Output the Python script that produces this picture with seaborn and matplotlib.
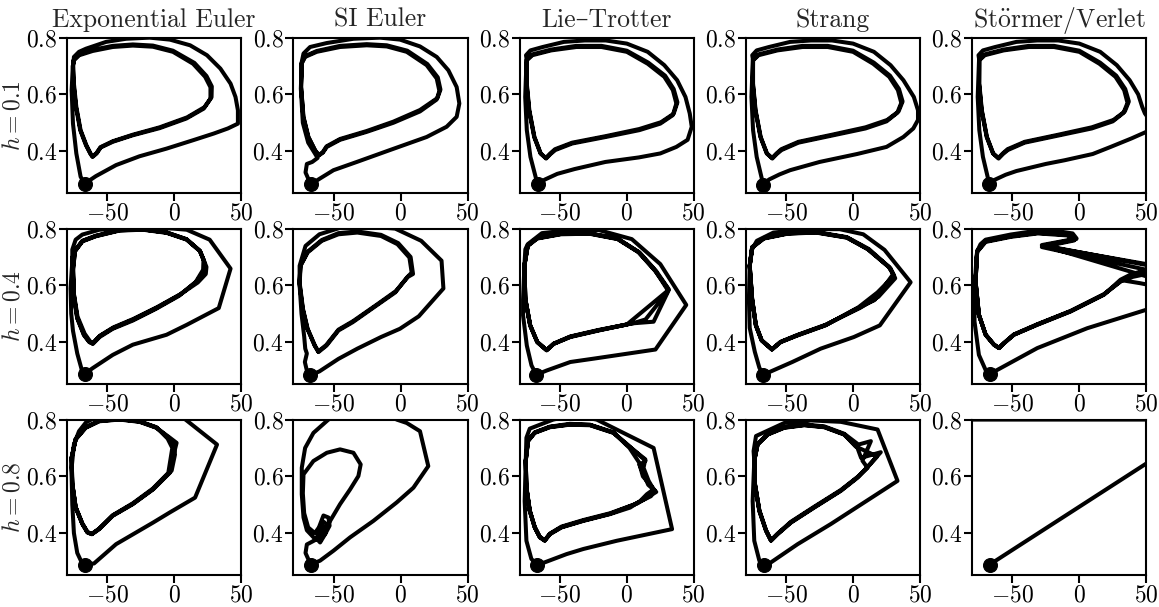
import pandas as pd
import matplotlib
matplotlib.use('Agg')
import matplotlib.pyplot as plt
import seaborn as sns

methods = ['Exponential Euler', 'SI Euler', 'Lie–Trotter', 'Strang', r'St$\ddot{\mathrm{o}}$rmer/Verlet']
step_sizes = ['0.1', '0.4', '0.8']

exp_01 = [(-66.7, .283), (-62.4, .300), (-58.6, .312), (-43.5, .351), (-26, .382), (-5.8, .409), (14.3, .439),
          (29.4, .462), (40, .480), (47.5, .497), (47.5, .544), (45.7, .591), (42, .638), (34.4, .691), (24.4, .738),
          (11.8, .773), (-3.3, .793), (-18.4, .800), (-36, .796), (-51, .785), (-66, .761), (-71.2, .750), (-75, .732),
          (-75.5, .700), (-75, .638), (-73.2, .556), (-70, .474), (-65.7, .421), (-62.4, .390), (-61, .380), (-58, .392),
          (-55, .413), (-46, .433), (-31, .456), (-11, .481), (9, .515), (22, .550), (27, .585), (27, .625), (23, .662),
          (14, .708), (-1, .750), (-16, .768), (-31, .772), (-46, .767), (-61, .753), (-71, .738), (-75, .720),
          (-75.8, .700), (-75.3, .638), (-73.5, .556), (-70.3, .474), (-66, .421), (-62.6, .390), (-61.2, .381),
          (-58.2, .393), (-55.2, .414), (-46, .435), (-31, .458), (-11, .484), (9.5, .519), (22.5, .555), (27.8, .590),
          (28, .628), (24, .665), (15, .711), (-1, .754), (-16, .772), (-31, .776), (-46, .771), (-61, .757),
          (-71.2, .741), (-75.2, .722), (-75.8, .700), (-76.7, .615), (-75.7, .497), (-73.2, .392), (-70, .310),
          (-66.7, .283)]
si_01 = [(-67.1, .283), (-60.1, .304), (-50.1, .333), (-32.7, .362), (-7.9, .404), (19.5, .450), (34.4, .486),
         (41.9, .521), (43.9, .568), (41.9, .626), (35.7, .685), (27, .732), (14.5, .769), (-0.4, .793), (-15.3, .800),
         (-35.2, .796), (-55.1, .781), (-67.6, .767), (-72.5, .744), (-74, .710), (-74.3, .626), (-72.5, .521),
         (-68.8, .450), (-63.8, .403), (-61, .385), (-58, .395), (-55.1, .415), (-45.2, .440), (-25.3, .468),
         (-5.4, .500), (14.5, .540), (27, .582), (29, .612), (27, .656), (19.5, .703), (4.6, .750), (-10.3, .769),
         (-25.3, .773), (-45.2, .767), (-62.6, .750), (-71.3, .732), (-73.8, .709), (-74.3, .626), (-72.7, .521),
         (-69, .450), (-64, .403), (-61.2, .386), (-58.2, .396), (-55.3, .417), (-45.2, .443), (-25.3, .471),
         (-5.4, .504), (14.5, .545), (27.5, .587), (29.8, .617), (27.8, .660), (20, .707), (5, .754), (-10.3, .773),
         (-25.3, .777), (-45.2, .771), (-62.6, .753), (-71.3, .735), (-73.8, .712), (-74.5, .620), (-73, .500),
         (-69, .430), (-64, .392), (-62, .376), (-66, .362), (-70, .355), (-71, .325), (-67.1, .283)]
lt_01 = [(-66.5, .284), (-61.2, .300), (-52, .320), (-39, .337), (-16, .362), (9, .378), (25, .392), (37, .415),
         (45.4, .440), (48.5, .486), (47, .533), (43.8, .591), (37.6, .650), (28, .703), (15.6, .750), (0, .779),
         (-15.7, .790), (-31.4, .790), (-47, .785), (-62.8, .767), (-72, .755), (-75.3, .738), (-74.7, .720),
         (-74.7, .638), (-72.8, .544), (-69, .450), (-64.3, .392), (-60.3, .374), (-57, .390), (-53.4, .404),
         (-40.8, .427), (-15.7, .450), (9.3, .474), (25, .497), (34.4, .527), (37, .568), (34.4, .615), (28, .662),
         (15.6, .708), (0, .750), (-18.9, .767), (-37.7, .767), (-56.5, .755), (-70.6, .738), (-74.7, .720),
         (-74.9, .638), (-73, .544), (-69.2, .450), (-64.5, .392), (-60.5, .376), (-57.2, .392), (-53.6, .407),
         (-40.8, .430), (-15.7, .453), (9.3, .478), (25.5, .502), (35, .532), (37.8, .572), (35, .619), (28.6, .666),
         (16, .712), (0, .754), (-18.9, .771), (-37.7, .771), (-56.5, .758), (-70.6, .741), (-74.9, .722),
         (-75.9, .591), (-74.7, .474), (-72, .380), (-67.5, .298), (-66.5, .284)]
st_01 = [(-67.5, .280), (-62.8, .300), (-55, .318), (-47, .333), (-25, .362), (3, .390), (25, .415), (37.6, .450),
         (45, .480), (48.5, .510), (48.5, .544), (45.4, .591), (37.6, .650), (28, .703), (15.6, .750), (0, .779),
         (-15.7, .790), (-31.4, .790), (-47, .785), (-62.8, .767), (-72, .755), (-75.3, .738), (-74.7, .720),
         (-74.7, .638), (-72.8, .544), (-69, .450), (-64.3, .392), (-60.3, .374), (-57, .390), (-53.4, .404),
         (-40.8, .430), (-15.7, .455), (9.3, .480), (25, .505), (33, .535), (36, .570), (33.5, .615), (27, .662),
         (15, .708), (0, .750), (-18.9, .767), (-37.7, .767), (-56.5, .755), (-70.6, .738), (-74.7, .720),
         (-74.9, .638), (-73, .544), (-69.2, .450), (-64.5, .392), (-60.5, .376), (-57.2, .392), (-53.6, .407),
         (-40.8, .433), (-15.7, .458), (9.3, .484), (25.5, .510), (34, .540), (37, .575), (34.3, .619), (27.6, .666),
         (15.5, .712), (0, .754), (-18.9, .771), (-37.7, .771), (-56.5, .758), (-70.6, .741), (-74.9, .722),
         (-75.9, .591), (-74.7, .474), (-72, .380), (-68, .300), (-67.5, .280)]
sv_01 = [(-67.5, .283), (-62.8, .300), (-55, .317), (-47, .330), (-25, .355), (-11, .368), (10, .390), (23.4, .415),
         (39, .445), (50, .468), (54, .500), (49, .533), (47, .556), (44, .600), (37.6, .650), (28, .703), (15.6, .750),
         (0, .779), (-15.7, .790), (-31.4, .790), (-47, .785), (-62.8, .767), (-72, .755), (-75.3, .738),
         (-74.7, .720), (-74.7, .638), (-72.8, .544), (-69, .450), (-64.3, .392), (-60.3, .374), (-57, .390),
         (-53.4, .404), (-40.8, .430), (-15.7, .455), (9.3, .480), (25, .505), (33, .535), (36, .570), (33.5, .615),
         (27, .662), (15, .708), (0, .750), (-18.9, .767), (-37.7, .767), (-56.5, .755), (-70.6, .738), (-74.7, .720),
         (-74.9, .638), (-73, .544), (-69.2, .450), (-64.5, .392), (-60.5, .376), (-57.2, .392), (-53.6, .407),
         (-40.8, .433), (-15.7, .458), (9.3, .484), (25.5, .510), (34, .540), (37, .575), (34.3, .619), (27.6, .666),
         (15.5, .712), (0, .754), (-18.9, .771), (-37.7, .771), (-56.5, .758), (-70.6, .741), (-74.9, .722),
         (-75.9, .591), (-74.7, .474), (-72, .380), (-68, .300), (-67.5, .283)]

exp_04 = [(-66.9, .288), (-61.1, .308), (-46, .355), (-31, .391), (-5.8, .426), (9.3, .461), (33.2, .520), (42, .659),
          (26.4, .761), (9.3, .796), (-0.8, .800), (-25, .805), (-56, .796), (-68.7, .779), (-73.7, .761),
          (-76.2, .726), (-76.2, .700), (-75.7, .649), (-75, .567), (-72.5, .485), (-67.4, .426), (-63.7, .402),
          (-61.1, .395), (-56.1, .420), (-46, .449), (-31, .479), (-13.4, .520), (4.2, .567), (16.8, .614),
          (22.3, .652), (22.3, .685), (19.3, .720), (9.3, .761), (-5.8, .785), (-23.4, .796), (-41, .793),
          (-58.6, .773), (-68.7, .755), (-74.2, .720), (-75.5, .660), (-75, .570), (-72.3, .490), (-67, .430),
          (-62.5, .400), (-60.5, .398), (-55.5, .423), (-45.5, .452), (-30.5, .482), (-13, .523), (5, .570),
          (17.5, .610), (23.5, .640), (24, .665), (21, .700), (19, .722), (9, .763), (-6, .787), (-23, .797),
          (-41, .795), (-58.6, .775), (-68.7, .757), (-74.2, .722), (-75.8, .650), (-75.2, .565), (-72.6, .485),
          (-67.6, .425), (-63.5, .400), (-60.8, .394), (-55.8, .418), (-46, .447), (-31, .476), (-13.8, .517),
          (3.5, .563), (16, .612), (21.5, .655), (21.8, .690), (19, .722), (9.2, .762), (-5.6, .786), (-23.4, .797),
          (-41, .794), (-58.6, .774), (-68.7, .756), (-74.2, .721), (-76, .700), (-77.5, .590), (-77, .500),
          (-75.7, .440), (-72.5, .360), (-69, .300), (-66.9, .288)]
si_04 = [(-67.6, .283), (-60.6, .297), (-46.4, .341), (-32.3, .377), (-14.6, .418), (-0.5, .447), (13.6, .491),
         (32, .589), (30.6, .687), (15.4, .757), (-4, .800), (-20, .806), (-45, .803), (-60.6, .780), (-71, .739),
         (-75.4, .669), (-75.4, .610), (-72.9, .517), (-69.4, .447), (-64, .388), (-61.3, .365), (-55.3, .388),
         (-46.4, .441), (-35.8, .470), (-18, .529), (-4, .575), (4.8, .628), (8.3, .645), (6.6, .698), (-2.3, .745),
         (-14.6, .774), (-32.3, .786), (-46.4, .780), (-58.8, .757), (-69.4, .716), (-74.7, .669), (-75.6, .610),
         (-73.1, .517), (-69.6, .447), (-64.2, .388), (-61.5, .367), (-55.5, .390), (-46.4, .444), (-35.5, .474),
         (-17.5, .533), (-3.5, .580), (5.5, .630), (9.3, .640), (7.5, .700), (-1.8, .749), (-14.6, .778),
         (-32.3, .790), (-46.4, .784), (-58.8, .760), (-69.4, .719), (-74.7, .671), (-75.4, .600), (-74, .500),
         (-72, .420), (-71.2, .377), (-70, .360), (-71.5, .330), (-70, .300), (-67.6, .283)]
lt_04 = [(-67.6, .285), (-59.9, .300), (-42.2, .330), (-24.5, .342), (21.4, .374), (44.4, .531), (25, .675),
         (3.7, .763), (-21, .795), (-42.2, .795), (-63.4, .784), (-74, .745), (-75.8, .727), (-76.5, .669),
         (-75.8, .552), (-72.2, .459), (-66.9, .400), (-59.9, .371), (-54.6, .394), (-42.2, .418), (-21, .441),
         (3.7, .466), (20, .472), (31, .580), (21.4, .651), (9, .716), (-6.9, .763), (-28, .782), (-49.3, .780),
         (-66.9, .765), (-74, .739), (-76.5, .669), (-75.8, .552), (-72.2, .459), (-66.9, .400), (-59.9, .372),
         (-54.6, .395), (-42.2, .420), (-21, .443), (0, .462), (31.5, .585), (22, .650), (9.5, .716), (-6.9, .765),
         (-28, .784), (-49.3, .782), (-66.9, .767), (-74, .741), (-76.5, .670), (-75.8, .552), (-72.2, .460),
         (-66.9, .401), (-59.9, .372), (-54.6, .394), (-42.2, .419), (-21, .442), (5, .467), (14, .480), (30, .575),
         (30.5, .590), (21, .652), (8.5, .718), (-6.9, .764), (-28, .783), (-49.3, .781), (-66.9, .766), (-74, .740),
         (-76.5, .669), (-77.5, .550), (-77.5, .494), (-74.7, .388), (-71.2, .318), (-67.6, .285)]
st_04 = [(-67.3, .285), (-61.3, .297), (-45.4, .330), (-24.2, .377), (0.6, .418), (20, .459), (43, .611),
         (23.5, .725), (7.6, .780), (-10, .798), (-34.8, .798), (-59.5, .786), (-71.9, .757), (-75.4, .727),
         (-77.2, .669), (-75.4, .552), (-72.6, .459), (-68.3, .406), (-60.6, .374), (-54.2, .400), (-41.8, .423),
         (-20.6, .459), (4.1, .523), (18.2, .575), (30.6, .634), (27.1, .663), (11.2, .727), (-4.7, .768),
         (-27.7, .786), (-48.9, .782), (-66.6, .765), (-75.4, .733), (-77.2, .669), (-75.4, .552), (-72.6, .460),
         (-68.3, .407), (-60.6, .375), (-54.2, .401), (-41.8, .425), (-20.6, .461), (5, .520), (19, .560),
         (31.5, .625), (28, .660), (11.8, .728), (-4.7, .770), (-27.7, .788), (-48.9, .784), (-66.6, .767),
         (-75.4, .735), (-77.2, .670), (-75.4, .552), (-72.6, .459), (-68.3, .406), (-60.6, .374), (-54.2, .400),
         (-41.8, .424), (-20.6, .460), (4.5, .522), (16, .548), (30, .640), (26.5, .666), (10.8, .728), (-4.7, .769),
         (-27.7, .787), (-48.9, .783), (-66.6, .766), (-75.4, .734), (-77.2, .669), (-77.8, .550), (-77.2, .450),
         (-73.4, .366), (-70, .310), (-67.3, .285)]
sv_04 = [(-67, .287), (-61.3, .302), (-31.4, .379), (5.9, .449), (50, .514), (56, .540), (58, .600), (55, .665),
         (50, .672), (-28, .742), (-2, .765), (-5, .783), (-19, .793), (-31.4, .793), (-51.4, .779), (-70, .761),
         (-73.8, .745), (-76.3, .720), (-77.5, .614), (-75, .496), (-70, .426), (-63.8, .391), (-60, .379),
         (-56.3, .396), (-48.9, .426), (-31.4, .461), (-6.5, .508), (18.4, .567), (30.8, .620), (38.3, .638),
         (50, .655), (56, .665), (50, .675), (-26, .738), (-3, .762), (-8, .778), (-31, .785), (-51, .773),
         (-70, .755), (-76.3, .720), (-77.5, .614), (-75, .497), (-70, .427), (-63.8, .392), (-60, .380),
         (-56.3, .397), (-48.9, .427), (-31.4, .463), (-6.5, .510), (18.4, .569), (31, .615), (40, .630), (50, .640),
         (56, .645), (50, .655), (-28, .735), (-4, .758), (-9, .776), (-31, .783), (-51, .771), (-70, .753),
         (-76.3, .718), (-77.5, .614), (-75, .496), (-70, .426), (-63.8, .391), (-60, .379), (-56.3, .396),
         (-48.9, .426), (-31.4, .462), (-6.5, .509), (18.4, .568), (32, .618), (45, .608), (56, .598), (52, .628),
         (50, .632), (-27, .740), (-2.5, .763), (-7, .780), (-31, .787), (-51, .775), (-70, .757), (-76.3, .721),
         (-76.8, .700), (-78.3, .580), (-78.3, .473), (-75, .355), (-70, .302), (-67, .287)]

exp_08 = [(-66.9, .289), (-60, .293), (-43.5, .361), (-15.9, .437), (-3.3, .473), (15.5, .525), (31.9, .712),
          (3, .820), (-50, .830), (-66, .790), (-71.2, .759), (-75, .712), (-76.7, .630), (-76.2, .572), (-73.7, .490),
          (-68.7, .432), (-64.9, .402), (-61.6, .396), (-56.1, .414), (-46, .461), (-31, .502), (-15.9, .554),
          (-3.3, .613), (-0.8, .671), (1.7, .718), (-3.3, .736), (-13.4, .771), (-26, .792), (-41, .800), (-56, .794),
          (-66.2, .771), (-73.7, .730), (-76.7, .665), (-76.2, .575), (-73.7, .492), (-68.7, .434), (-64.9, .404),
          (-61.6, .397), (-56.1, .416), (-46, .463), (-31, .505), (-16, .557), (-4.5, .612), (-1.5, .700),
          (-5, .733), (-13.4, .773), (-26, .794), (-41, .802), (-56, .796), (-66.2, .773), (-73.7, .732),
          (-76.7, .667), (-76.2, .573), (-73.7, .491), (-68.7, .433), (-64.9, .403), (-61.6, .397), (-56.1, .415),
          (-46, .462), (-31, .503), (-15.5, .556), (-2, .620), (0.5, .677), (-1, .710), (-4, .735), (-13.4, .772),
          (-26, .793), (-41, .801), (-56, .795), (-66.2, .772), (-73.7, .731), (-76.7, .666), (-76.7, .600),
          (-76.2, .500), (-75, .400), (-72.5, .330), (-69, .295), (-66.9, .289)]
si_08 = [(-67.1, .289), (-60.1, .303), (-50.1, .338), (-37.7, .385), (-20.3, .443), (-2.9, .508), (9.6, .560),
         (20.7, .636), (14.5, .759), (4.6, .788), (-2.9, .800), (-10, .820), (-45, .820), (-53.9, .800),
         (-65.1, .753), (-71.3, .700), (-73.8, .630), (-73.8, .537), (-72.5, .455), (-70, .410), (-65, .385),
         (-60.1, .373), (-57.6, .396), (-52.6, .443), (-45.2, .502), (-37.7, .554), (-31.5, .601), (-29.8, .642),
         (-35.2, .683), (-45.2, .695), (-55.1, .683), (-65.1, .654), (-72.5, .607), (-73, .540), (-72, .470),
         (-69, .420), (-64, .400), (-61, .420), (-57.6, .462), (-53.9, .455), (-53, .426), (-56.4, .396),
         (-60.1, .367), (-62.6, .380), (-61, .415), (-57.5, .440), (-55, .430), (-56, .400), (-59.5, .380),
         (-61.5, .395), (-59.5, .425), (-57, .420), (-57.5, .400), (-59.5, .390), (-60, .405), (-58.5, .410),
         (-62, .380), (-66, .370), (-70, .360), (-71, .330), (-67.1, .289)]
lt_08 = [(-67, .289), (-61.3, .297), (-45, .326), (-32.5, .344), (-7.5, .373), (33.8, .414), (20, .700),
         (-22.5, .800), (-40, .815), (-55, .800), (-72.5, .768), (-75, .736), (-75.5, .654), (-75, .560),
         (-72.5, .478), (-68.8, .420), (-65, .385), (-61.3, .373), (-57.5, .396), (-48.8, .420), (-32.5, .443),
         (-12.5, .467), (2.5, .490), (10, .513), (15, .537), (20, .554), (16.3, .584), (12.5, .630), (13.8, .660),
         (0, .712), (-10, .753), (-27.5, .780), (-42.5, .782), (-57.5, .773), (-68.8, .753), (-73.8, .724),
         (-75.5, .654), (-75, .562), (-72.5, .480), (-68.8, .422), (-65, .387), (-61.3, .375), (-57.5, .398),
         (-48.8, .423), (-32.5, .446), (-12.5, .470), (5, .500), (18, .530), (21, .550), (12, .600), (9, .650),
         (2, .700), (-10, .755), (-27.5, .782), (-42.5, .785), (-57.5, .775), (-68.8, .755), (-73.8, .726),
         (-75.5, .656), (-75, .561), (-72.5, .479), (-68.8, .421), (-65, .386), (-61.3, .374), (-57.5, .397),
         (-48.8, .421), (-32.5, .444), (-12.5, .468), (8, .505), (22, .545), (16, .570), (9.5, .640), (14, .655),
         (1, .710), (-10, .754), (-27.5, .781), (-42.5, .783), (-57.5, .774), (-68.8, .754), (-73.8, .725),
         (-75.5, .655), (-76.3, .513), (-75, .373), (-71.3, .309), (-67, .289)]
st_08 = [(-66.8, .289), (-61.3, .297), (-41.4, .361), (-16.6, .432), (8.3, .508), (33.2, .584), (18.3, .765),
         (-9.1, .792), (-31.5, .797), (-51.4, .788), (-72.5, .742), (-74.3, .689), (-73.8, .654), (-73.3, .572),
         (-70, .478), (-65, .408), (-61.3, .373), (-56.4, .396), (-46.4, .437), (-29, .490), (-9.1, .549),
         (3.3, .595), (12, .640), (20.7, .685), (6, .665), (3.3, .700), (-6.6, .747), (-21.5, .773), (-36.5, .780),
         (-51.4, .771), (-63.8, .747), (-71.3, .712), (-73.8, .654), (-73.3, .574), (-70, .480), (-65, .410),
         (-61.3, .375), (-56.4, .398), (-46.4, .440), (-29, .493), (-9.1, .552), (4, .600), (10.8, .630), (7, .655),
         (13.3, .724), (4, .712), (-6.6, .750), (-21.5, .776), (-36.5, .783), (-51.4, .773), (-63.8, .749),
         (-71.3, .714), (-73.8, .656), (-73.3, .573), (-70, .479), (-65, .409), (-61.3, .374), (-56.4, .397),
         (-46.4, .438), (-29, .491), (-9.1, .550), (3.3, .597), (10.8, .632), (18, .670), (9, .690), (2, .705),
         (-6.6, .748), (-21.5, .774), (-36.5, .781), (-51.4, .772), (-63.8, .748), (-71.3, .713), (-73.8, .655),
         (-75, .513), (-73.8, .373), (-70, .303), (-66.8, .289)]
sv_08 = [(-67, .289), (50, .645), (120, .858), (100, .800), (-100, .800)]

panels = [[exp_01, si_01, lt_01, st_01, sv_01],
          [exp_04, si_04, lt_04, st_04, sv_04],
          [exp_08, si_08, lt_08, st_08, sv_08]]

sns.set_theme(style='ticks')
plt.rcParams['font.family'] = ['cmr10', 'DejaVu Serif']
plt.rcParams['mathtext.fontset'] = 'cm'
plt.rcParams['axes.formatter.use_mathtext'] = True
plt.rcParams['axes.linewidth'] = 1.5
plt.rcParams['axes.edgecolor'] = 'black'

fig, axes = plt.subplots(3, 5, figsize=(11.59, 6.07), dpi=100)
fig.subplots_adjust(left=0.058, right=0.989, top=0.938, bottom=0.053, wspace=0.30, hspace=0.23)

for i, row in enumerate(panels):
    for j, traj in enumerate(row):
        ax = axes[i, j]
        df = pd.DataFrame(traj, columns=['V', 'n'])
        sns.lineplot(data=df, x='V', y='n', sort=False, estimator=None,
                     color='black', lw=2.9, ax=ax)
        sns.scatterplot(x=df['V'].iloc[:1], y=df['n'].iloc[:1], color='black',
                        s=100, edgecolor='black', zorder=3, ax=ax)
        ax.set_xlim(-80, 50)
        ax.set_ylim(0.253, 0.8)
        ax.set_xticks([-50, 0, 50])
        ax.set_yticks([0.4, 0.6, 0.8])
        ax.tick_params(direction='out', length=6, width=1.5, labelsize=17, pad=1,
                       colors='black')
        ax.set_xlabel('')
        ax.set_ylabel('')
        if i == 0:
            ax.set_title(methods[j], fontsize=18.5, pad=8)
        if j == 0:
            ax.set_ylabel(f'$h = {step_sizes[i]}$', fontsize=17, labelpad=1)

fig.savefig('out.png', dpi=100)
